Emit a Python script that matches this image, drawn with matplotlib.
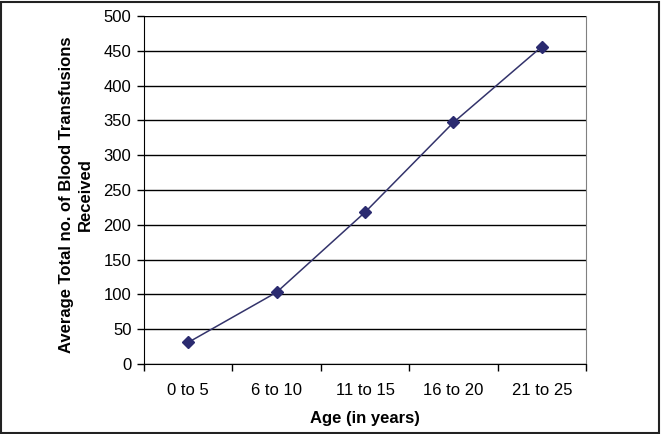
import matplotlib.pyplot as plt
from matplotlib.patches import Rectangle

plt.rcParams['font.family'] = ['Liberation Sans', 'DejaVu Sans']

age_groups = ["0 to 5", "6 to 10", "11 to 15", "16 to 20", "21 to 25"]
transfusions = [31, 103, 218, 347, 456]

fig = plt.figure(figsize=(6.64, 4.34), dpi=100)
ax = fig.add_axes([144 / 664, 1 - 364 / 434, (586 - 144) / 664, (364 - 16) / 434])

x = range(len(age_groups))
ax.plot(x, transfusions, color='#33336b', lw=1.1, marker='D', ms=6,
        mfc='#2b2b70', mec='#2b2b70', zorder=3)

ax.set_xlim(-0.5, len(age_groups) - 0.5)
ax.set_ylim(0, 500)
ax.set_yticks(range(0, 501, 50))
ax.set_xticks(list(x))
ax.set_xticklabels(age_groups)
ax.set_xticks([i + 0.5 for i in range(-1, len(age_groups))], minor=True)
ax.tick_params(axis='x', which='major', length=0, pad=14, labelsize=12)
ax.tick_params(axis='x', which='minor', length=5, width=1, direction='out')
ax.tick_params(axis='y', length=5, width=1, direction='out', labelsize=12, pad=4)
ax.yaxis.grid(True, color='black', lw=1)
ax.set_axisbelow(True)

ax.spines['top'].set_visible(False)
ax.spines['right'].set_color('#808080')
ax.spines['left'].set_color('black')
ax.spines['bottom'].set_color('black')

ax.set_xlabel('Age (in years)', fontsize=12, fontweight='bold')
ax.xaxis.label.set_va('center')
ax.xaxis.set_label_coords(0.5, -(418 - 364) / 348)
ax.set_ylabel('Average Total no. of Blood Transfusions\nReceived', fontsize=12,
              fontweight='bold', linespacing=1.3)
ax.yaxis.label.set_va('center')
ax.yaxis.set_label_coords(-(144 - 76) / 442, (364 - 195) / 348)

fig.patches.append(Rectangle((0.002, 0.003), 0.991, 0.993, transform=fig.transFigure,
                             fill=False, ec='#222222', lw=1.5))

fig.savefig('out.png', dpi=100)
